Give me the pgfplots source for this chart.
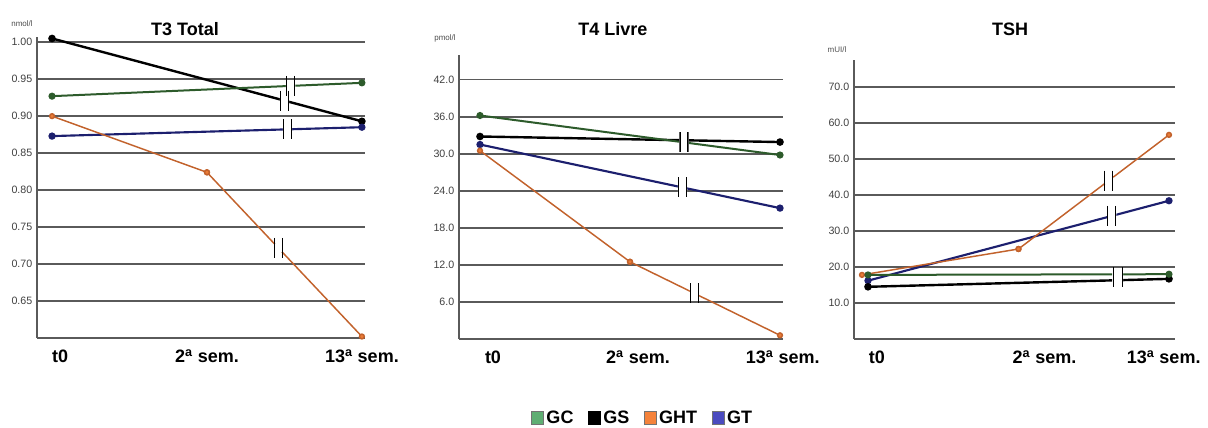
\documentclass[border=0pt]{standalone}
\usepackage{pgfplots}
\pgfplotsset{compat=1.18}
\usepackage{fontspec}
\setmainfont{Liberation Sans}
\definecolor{gcl}{HTML}{2D5B2B}
\definecolor{gcf}{HTML}{5FAE73}
\definecolor{ghtl}{HTML}{C2622C}
\definecolor{ghtf}{HTML}{F5823A}
\definecolor{gtl}{HTML}{1C1F6E}
\definecolor{gtf}{HTML}{4B4BBF}
\definecolor{gridc}{HTML}{5A5A5A}
\tikzset{
 brk/.style={inner sep=0pt, minimum width=7pt, minimum height=15pt, path picture={
   \fill[white] ([yshift=-#1]path picture bounding box.west) rectangle ([yshift=#1]path picture bounding box.east);
   \draw[black, line width=0.9pt] ([xshift=0.5pt]path picture bounding box.north west) -- ([xshift=0.5pt]path picture bounding box.south west);
   \draw[black, line width=0.9pt] ([xshift=-0.5pt]path picture bounding box.north east) -- ([xshift=-0.5pt]path picture bounding box.south east);}},
 brk/.default=2.4pt
}
\pgfplotsset{
 panel/.style={scale only axis, anchor=south west, axis lines=left,
   axis line style={-, draw=gridc, line width=1.2pt},
   ymajorgrids, grid style={draw=gridc, line width=1.2pt},
   major tick length=0pt, xtick={0,1,2}, clip=false,
   /pgf/number format/assume math mode=true,
   yticklabel style={font=\fontsize{8}{9}\selectfont, text=black!75},
   xticklabel style={font=\fontsize{13.5}{16}\selectfont\bfseries, anchor=base, yshift=-18.75pt},
 },
 gcs/.style={color=gcl, mark=*, mark size=1.9pt, line width=1.5pt},
 gss/.style={color=black, mark=*, mark size=1.9pt, line width=1.8pt},
 ghts/.style={color=ghtl, mark=*, mark size=1.8pt, mark options={fill=ghtf!80!ghtl}, line width=1.1pt},
 gts/.style={color=gtl, mark=*, mark size=1.9pt, line width=1.6pt},
 legsq/.style={legend image code/.code={\draw[##1] (0pt,-4.9pt) rectangle (9pt,4.9pt);}},
}
\begin{document}
\begin{tikzpicture}
\useasboundingbox (0,0) rectangle (906pt,321pt);
% ---------- T3 Total ----------
\begin{axis}[panel, at={(27.75pt,67.5pt)}, width=246pt, height=225.75pt,
  xmin=-0.097, xmax=2.02, ymin=0.6, ymax=1.007,
  ytick={0.65,0.7,0.75,0.8,0.85,0.9,0.95,1.0},
  yticklabel style={/pgf/number format/.cd, fixed, fixed zerofill, precision=2},
  xticklabels={\hspace*{12pt}t0, 2\textsuperscript{a} sem., 13\textsuperscript{a} sem.}]
\addplot[gss] coordinates {(0,1.005) (2,0.893)} node[pos=0.75, brk] {};
\addplot[gcs] coordinates {(0,0.927) (2,0.945)} node[pos=0.77, brk] {};
\addplot[gts] coordinates {(0,0.873) (2,0.885)} node[pos=0.76, brk] {};
\addplot[ghts] coordinates {(0,0.900) (1,0.824)};
\addplot[ghts] coordinates {(1,0.824) (2,0.602)} node[pos=0.46, brk] {};
\end{axis}
% ---------- T4 Livre ----------
\begin{axis}[panel, at={(344.25pt,66.75pt)}, width=243pt, height=213pt,
  xmin=-0.14, xmax=2.02, ymin=0, ymax=46,
  ytick={6,12,18,24,30,36,42},
  yticklabel style={/pgf/number format/.cd, fixed, fixed zerofill, precision=1},
  xticklabels={\hspace*{19.5pt}t0, \hspace*{12pt}2\textsuperscript{a} sem., \hspace*{4pt}13\textsuperscript{a} sem.},
  legend columns=4,
  legend style={at={(0.568,-0.278)}, anchor=center, draw=none, fill=none,
    font=\fontsize{13.5}{16}\selectfont\bfseries,
    /tikz/every even column/.append style={column sep=9pt}},
  legend entries={GC, GS, GHT, GT}]
\addlegendimage{legsq, draw=black!55, fill=gcf, line width=0.4pt}
\addlegendimage{legsq, draw=black, fill=black, line width=0.4pt}
\addlegendimage{legsq, draw=black!55, fill=ghtf, line width=0.4pt}
\addlegendimage{legsq, draw=black!55, fill=gtf, line width=0.4pt}
\addplot[gss, forget plot] coordinates {(0,32.8) (2,31.9)};
\addplot[gts, forget plot] coordinates {(0,31.5) (2,21.2)} node[pos=0.675, brk] {};
\addplot[ghts, forget plot] coordinates {(0,30.5) (1,12.5)};
\addplot[ghts, forget plot] coordinates {(1,12.5) (2,0.6)} node[pos=0.43, brk] {};
\addplot[gcs, forget plot] coordinates {(0,36.2) (2,29.8)} node[pos=0.68, brk=3.2pt] {};
\end{axis}
% ---------- TSH ----------
\begin{axis}[panel, at={(640.5pt,66.75pt)}, width=240.75pt, height=209.25pt,
  xmin=-0.093, xmax=2.04, ymin=0, ymax=77.5,
  ytick={10,20,30,40,50,60,70},
  yticklabel style={/pgf/number format/.cd, fixed, fixed zerofill, precision=1},
  xticklabels={\hspace*{13.5pt}t0, \hspace*{39pt}2\textsuperscript{a} sem., 13\textsuperscript{a} sem.\hspace*{8pt}}]
\addplot[gts] coordinates {(0,16.2) (2,38.4)} node[pos=0.81, brk] {};
\addplot[ghts] coordinates {(-0.04,17.8) (1,25.0)};
\addplot[ghts] coordinates {(1,25.0) (2,56.7)} node[pos=0.6, brk] {};
\addplot[gss] coordinates {(0,14.5) (2,16.7)};
\addplot[gcs] coordinates {(0,17.8) (2,18.0)} node[pos=0.83, brk=4.2pt, minimum width=8pt, yshift=-2.25pt] {};
\end{axis}
% ---------- titles and units ----------
\node[font=\fontsize{13.5}{16}\selectfont\bfseries] at (138.75pt,299.25pt) {T3 Total};
\node[font=\fontsize{13.5}{16}\selectfont\bfseries] at (459.75pt,299.25pt) {T4 Livre};
\node[font=\fontsize{13.5}{16}\selectfont\bfseries] at (757.5pt,299.25pt) {TSH};
\node[font=\fontsize{6}{7}\selectfont, text=black!70] at (16.5pt,303pt) {nmol/l};
\node[font=\fontsize{6}{7}\selectfont, text=black!70] at (333.75pt,292.5pt) {pmol/l};
\node[font=\fontsize{6}{7}\selectfont, text=black!70] at (627.75pt,283.5pt) {mUI/l};
\end{tikzpicture}
\end{document}
